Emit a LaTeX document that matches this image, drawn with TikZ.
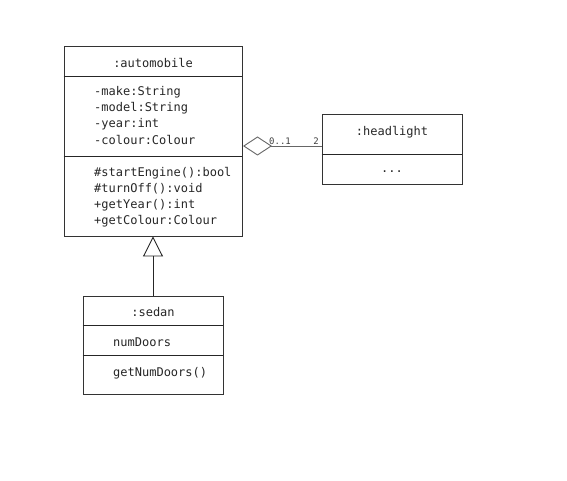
\documentclass[tikz,border=0pt]{standalone}
\usepackage{fontspec}
\setmonofont{DejaVu Sans Mono}
\usetikzlibrary{arrows.meta}
\begin{document}
\begin{tikzpicture}[x=1pt,y=-1pt,
  umlbox/.style={draw=black!80, line width=0.9pt, inner sep=0pt},
  sep/.style={draw=black!85, line width=0.9pt},
  txt/.style={font=\ttfamily\fontsize{12}{14}\selectfont, text=black!85, inner sep=0pt},
  small/.style={font=\ttfamily\fontsize{9}{10}\selectfont, text=black!75, inner sep=0pt},
  conn/.style={draw=black!60, line width=0.9pt}]
\useasboundingbox (0,0) rectangle (567,481);
% automobile
\node[umlbox, minimum width=178pt, minimum height=190pt] (auto) at (153,141) {};
\draw[sep] (auto.west |- 0,76) -- (auto.east |- 0,76);
\draw[sep] (auto.west |- 0,156) -- (auto.east |- 0,156);
\node[txt] (autot) at (153,63) {:automobile};
\node[txt, anchor=west] (a1) at (94,92) {-make:String};
\node[txt, anchor=west] (a2) at (94,108) {-model:String};
\node[txt, anchor=west] (a3) at (94,124) {-year:int};
\node[txt, anchor=west] (a4) at (94,140) {-colour:Colour};
\node[txt, anchor=west] (m1) at (94,173) {\#startEngine():bool};
\node[txt, anchor=west] (m2) at (94,189) {\#turnOff():void};
\node[txt, anchor=west] (m3) at (94,205) {+getYear():int};
\node[txt, anchor=west] (m4) at (94,221) {+getColour:Colour};
% headlight
\node[umlbox, minimum width=140pt, minimum height=70pt] (head) at (392,149) {};
\draw[sep] (head.west |- 0,154) -- (head.east |- 0,154);
\node[txt] (headt) at (392,132) {:headlight};
\node[txt] (headd) at (392,172) {...};
% sedan
\node[umlbox, minimum width=140pt, minimum height=98pt] (sedan) at (153,345) {};
\draw[sep] (sedan.west |- 0,325) -- (sedan.east |- 0,325);
\draw[sep] (sedan.west |- 0,355) -- (sedan.east |- 0,355);
\node[txt] (sedant) at (153,312) {:sedan};
\node[txt, anchor=west] (s1) at (113,342) {numDoors};
\node[txt, anchor=west] (s2) at (113,373) {getNumDoors()};
% aggregation
\coordinate (hl) at (322,146);
\coordinate (al) at (243,146);
\draw[conn, -{Diamond[open,length=29pt,width=19pt,line width=0.9pt]}] (hl) -- (al);
\node[small, anchor=south west] (m01) at (269,145) {0..1};
\node[small, anchor=south] (m2l) at (316,145) {2};
% generalization
\draw[line width=1pt, draw=black!85, -{Triangle[open,length=20pt,width=20pt,line width=0.9pt]}] (sedan.north) -- (auto.south);
\end{tikzpicture}
\end{document}
